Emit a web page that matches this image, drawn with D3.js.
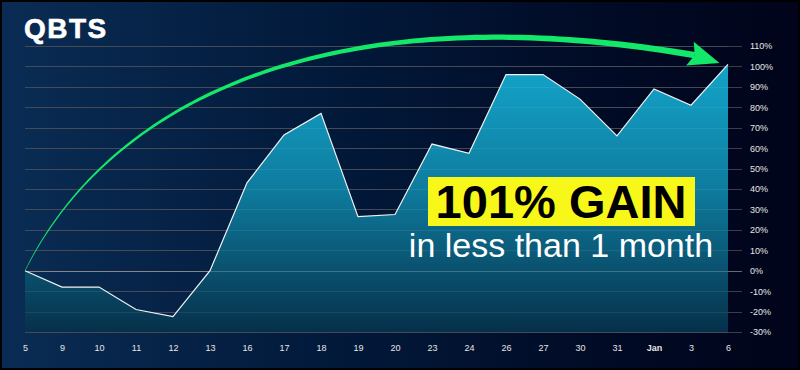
<!DOCTYPE html>
<html>
<head>
<meta charset="utf-8">
<script src="https://cdn.jsdelivr.net/npm/d3@7"></script>
<style>
	html, body { margin: 0; padding: 0; background: #000; }
	svg { display: block; }
	.tick-label { font-family: "Liberation Sans", Arial, sans-serif; font-size: 9px; fill: #e6e6e6; }
</style>
</head>
<body>
<script>
var labels = [ '5', '9', '10', '11', '12', '13', '16', '17', '18', '19', '20', '23', '24', '26', '27', '30', '31', 'Jan', '3', '6' ];
var gains = [ 0, -8, -8, -19, -22.5, 0, 43, 66.5, 77, 26.5, 27.5, 62, 57.5, 96, 96, 84, 66, 89, 81, 101 ];
var yTicks = [ -30, -20, -10, 0, 10, 20, 30, 40, 50, 60, 70, 80, 90, 100, 110 ];

// arrow path in data space: [index, value]
var arrowStart = [ 0, 0 ];
var arrowC1 = [ 2.3, 84 ];
var arrowC2 = [ 8.25, 136 ];
var arrowEnd = [ 18.1, 105.5 ];

var width = 800;
var height = 370;

var svg = d3.select( 'body' ).append( 'svg' )
	.attr( 'width', width )
	.attr( 'height', height );

var defs = svg.append( 'defs' );

var bg = defs.append( 'linearGradient' ).attr( 'id', 'bg' )
	.attr( 'x1', 0 ).attr( 'x2', 1 ).attr( 'y1', 0 ).attr( 'y2', 0 );
bg.append( 'stop' ).attr( 'offset', '0%' ).attr( 'stop-color', '#0a2c54' );
bg.append( 'stop' ).attr( 'offset', '40%' ).attr( 'stop-color', '#021a3b' );
bg.append( 'stop' ).attr( 'offset', '75%' ).attr( 'stop-color', '#010b26' );
bg.append( 'stop' ).attr( 'offset', '100%' ).attr( 'stop-color', '#01041a' );

svg.append( 'rect' )
	.attr( 'x', 2 ).attr( 'y', 2 )
	.attr( 'width', width - 4 ).attr( 'height', height - 4 )
	.attr( 'fill', 'url(#bg)' );

var scales = {};
scales.x = d3.scalePoint().domain( labels ).range( [ 25, 728 ] );
scales.y = d3.scaleLinear().domain( [ -30, 110 ] ).range( [ 332, 46 ] );

var ix = function ( i ) {
	return 25 + i * ( 728 - 25 ) / ( labels.length - 1 );
};

var areaGrad = defs.append( 'linearGradient' ).attr( 'id', 'area-grad' )
	.attr( 'gradientUnits', 'userSpaceOnUse' )
	.attr( 'x1', 0 ).attr( 'x2', 0 )
	.attr( 'y1', scales.y( 110 ) ).attr( 'y2', scales.y( -30 ) );
areaGrad.append( 'stop' ).attr( 'offset', '0%' ).attr( 'stop-color', '#14aad0' );
areaGrad.append( 'stop' ).attr( 'offset', '50%' ).attr( 'stop-color', '#0e7c9e' );
areaGrad.append( 'stop' ).attr( 'offset', '100%' ).attr( 'stop-color', '#06304a' );

// grid
var grid = svg.append( 'g' ).attr( 'id', 'grid' );
grid.selectAll( 'line' )
	.data( yTicks )
	.enter()
	.append( 'line' )
	.attr( 'x1', 25 )
	.attr( 'x2', 742 )
	.attr( 'y1', function ( d ) { return Math.round( scales.y( d ) ) + 0.5; } )
	.attr( 'y2', function ( d ) { return Math.round( scales.y( d ) ) + 0.5; } )
	.attr( 'stroke', function ( d ) { return d === 0 ? '#6a6a6a' : '#383d4a'; } )
	.attr( 'stroke-width', 1 );

// area + line
var points = gains.map( function ( v, i ) { return { x: labels[i], y: v }; } );

var area = d3.area()
	.x( function ( d ) { return scales.x( d.x ); } )
	.y0( scales.y( -30 ) )
	.y1( function ( d ) { return scales.y( d.y ); } );

var line = d3.line()
	.x( function ( d ) { return scales.x( d.x ); } )
	.y( function ( d ) { return scales.y( d.y ); } );

svg.append( 'path' )
	.datum( points )
	.attr( 'd', area )
	.attr( 'fill', 'url(#area-grad)' );

// grid shows faintly through the fill
svg.append( 'g' ).selectAll( 'line' )
	.data( yTicks )
	.enter()
	.append( 'line' )
	.attr( 'x1', 25 )
	.attr( 'x2', 728 )
	.attr( 'y1', function ( d ) { return Math.round( scales.y( d ) ) + 0.5; } )
	.attr( 'y2', function ( d ) { return Math.round( scales.y( d ) ) + 0.5; } )
	.attr( 'stroke', '#ffffff' )
	.attr( 'stroke-opacity', function ( d ) { return d === 0 ? 0.2 : 0.07; } );

svg.append( 'path' )
	.datum( points )
	.attr( 'd', line )
	.attr( 'fill', 'none' )
	.attr( 'stroke', '#f2f2f2' )
	.attr( 'stroke-width', 1.2 );

// axes labels
var xAxis = d3.axisBottom( scales.x ).tickSize( 0 ).tickPadding( 0 );
var gx = svg.append( 'g' ).attr( 'transform', 'translate(0,348)' ).call( xAxis );
gx.select( '.domain' ).remove();
gx.selectAll( 'text' )
	.attr( 'class', 'tick-label' )
	.attr( 'dy', '0.35em' )
	.attr( 'font-family', null ).attr( 'font-size', null ).attr( 'fill', null )
	.style( 'font-weight', function ( d ) { return d === 'Jan' ? 'bold' : 'normal'; } );

var yAxis = d3.axisRight( scales.y ).tickValues( yTicks ).tickSize( 0 ).tickPadding( 0 )
	.tickFormat( function ( d ) { return d + '%'; } );
var gy = svg.append( 'g' ).attr( 'transform', 'translate(750,0)' ).call( yAxis );
gy.select( '.domain' ).remove();
gy.selectAll( 'text' )
	.attr( 'class', 'tick-label' )
	.attr( 'font-family', null ).attr( 'font-size', null ).attr( 'fill', null );

// tapered green arrow
var toPx = function ( p ) { return [ ix( p[0] ), scales.y( p[1] ) ]; };
var P0 = toPx( arrowStart ), P1 = toPx( arrowC1 ), P2 = toPx( arrowC2 ), P3 = toPx( arrowEnd );

var bez = function ( t ) {
	var a = ( 1 - t ) * ( 1 - t ) * ( 1 - t ), b = 3 * t * ( 1 - t ) * ( 1 - t ),
		c = 3 * t * t * ( 1 - t ), e = t * t * t;
	return [ a * P0[0] + b * P1[0] + c * P2[0] + e * P3[0],
		a * P0[1] + b * P1[1] + c * P2[1] + e * P3[1] ];
};
var bezD = function ( t ) {
	var a = 3 * ( 1 - t ) * ( 1 - t ), b = 6 * t * ( 1 - t ), c = 3 * t * t;
	return [ a * ( P1[0] - P0[0] ) + b * ( P2[0] - P1[0] ) + c * ( P3[0] - P2[0] ),
		a * ( P1[1] - P0[1] ) + b * ( P2[1] - P1[1] ) + c * ( P3[1] - P2[1] ) ];
};

var left = [], right = [];
d3.range( 0, 1.0001, 0.01 ).forEach( function ( t ) {
	var p = bez( t ), d = bezD( t );
	var len = Math.sqrt( d[0] * d[0] + d[1] * d[1] );
	var nx = -d[1] / len, ny = d[0] / len;
	var w = 0.25 + 2.9 * Math.pow( t, 0.9 );
	left.push( [ p[0] + nx * w, p[1] + ny * w ] );
	right.push( [ p[0] - nx * w, p[1] - ny * w ] );
} );
var body = left.concat( right.reverse() );

svg.append( 'path' )
	.attr( 'd', 'M' + body.map( function ( p ) { return p.join( ',' ); } ).join( 'L' ) + 'Z' )
	.attr( 'fill', '#14e86a' );

var endD = bezD( 1 );
var endLen = Math.sqrt( endD[0] * endD[0] + endD[1] * endD[1] );
var ux = endD[0] / endLen, uy = endD[1] / endLen;
// rotate a bit further down toward the last point
var ang = Math.atan2( uy, ux ) + 0.14;
ux = Math.cos( ang ); uy = Math.sin( ang );
var headLen = 31, headHalf = 12.5;
var back = [ P3[0] - ux * 5, P3[1] - uy * 5 ];
var tip = [ back[0] + ux * headLen, back[1] + uy * headLen ];
var head = [
	tip,
	[ back[0] - uy * headHalf, back[1] + ux * headHalf ],
	[ back[0] + ux * 5, back[1] + uy * 5 ],
	[ back[0] + uy * headHalf, back[1] - ux * headHalf ]
];
svg.append( 'path' )
	.attr( 'd', 'M' + head.map( function ( p ) { return p.join( ',' ); } ).join( 'L' ) + 'Z' )
	.attr( 'fill', '#14e86a' );

// title
svg.append( 'text' )
	.attr( 'x', 24 ).attr( 'y', 38 )
	.attr( 'font-family', '"Liberation Sans", Arial, sans-serif' )
	.attr( 'font-weight', 'bold' )
	.attr( 'font-size', 28 )
	.attr( 'letter-spacing', 1.5 )
	.attr( 'stroke', '#ffffff' )
	.attr( 'stroke-width', 0.6 )
	.attr( 'fill', '#ffffff' )
	.text( 'QBTS' );

// callout
svg.append( 'rect' )
	.attr( 'x', 428 ).attr( 'y', 177 )
	.attr( 'width', 267 ).attr( 'height', 49 )
	.attr( 'fill', '#f7f71a' );

svg.append( 'text' )
	.attr( 'x', 561 ).attr( 'y', 218 )
	.attr( 'text-anchor', 'middle' )
	.attr( 'font-family', '"Liberation Sans", Arial, sans-serif' )
	.attr( 'font-weight', 'bold' )
	.attr( 'font-size', 47 )
	.attr( 'fill', '#000000' )
	.text( '101% GAIN' );

svg.append( 'text' )
	.attr( 'x', 561 ).attr( 'y', 257 )
	.attr( 'text-anchor', 'middle' )
	.attr( 'font-family', '"Liberation Sans", Arial, sans-serif' )
	.attr( 'font-size', 34 )
	.attr( 'fill', '#ffffff' )
	.text( 'in less than 1 month' );
</script>
</body>
</html>
